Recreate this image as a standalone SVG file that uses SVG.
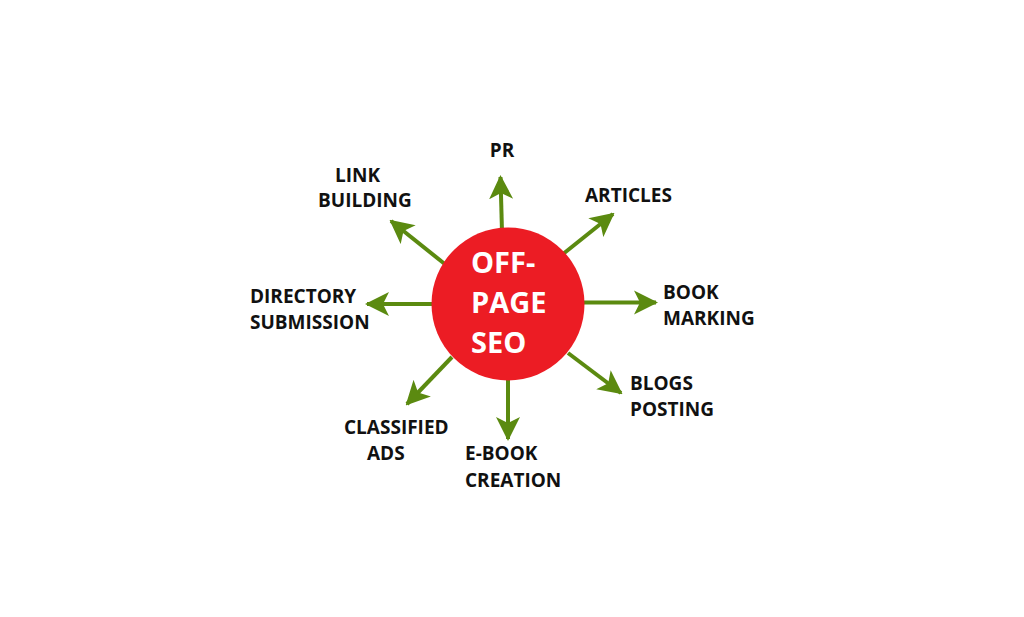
<svg xmlns="http://www.w3.org/2000/svg" width="1024" height="617" viewBox="0 0 1024 617">
<style>
.lbl{font-family:"Open Sans","Liberation Sans",sans-serif;font-weight:700;font-size:19px;fill:#111}
.ctr{font-family:"Open Sans","Liberation Sans",sans-serif;font-weight:700;font-size:29px;fill:#fff}
.arr{stroke:#5b8a10;stroke-width:4;fill:none;marker-end:url(#ah)}
</style>
<defs>
<marker id="ah" markerUnits="userSpaceOnUse" markerWidth="24" markerHeight="26" viewBox="0 0 24 26" refX="22" refY="13" orient="auto">
<path d="M0,1 L24,13 L0,25 L6,13 Z" fill="#5b8a10"/>
</marker>
</defs>
<rect width="1024" height="617" fill="#fff"/>
<g id="connectors">
<line class="arr" x1="502" y1="232" x2="500.5" y2="177"/>
<line class="arr" x1="563" y1="254" x2="613" y2="214"/>
<line class="arr" x1="584" y1="302.5" x2="656" y2="302.5"/>
<line class="arr" x1="568" y1="353" x2="621" y2="393"/>
<line class="arr" x1="508" y1="378" x2="508" y2="439"/>
<line class="arr" x1="452" y1="357" x2="407" y2="404"/>
<line class="arr" x1="433" y1="304" x2="367" y2="304"/>
<line class="arr" x1="446" y1="265" x2="391" y2="221"/>
</g>
<g id="center">
<circle cx="508" cy="304" r="76.5" fill="#ec1c24"/>
<text class="ctr" x="471" y="273">OFF-</text>
<text class="ctr" x="471" y="313">PAGE</text>
<text class="ctr" x="471" y="353">SEO</text>
</g>
<g id="pr"><text class="lbl" x="502" y="157" text-anchor="middle">PR</text></g>
<g id="articles"><text class="lbl" x="585" y="202">ARTICLES</text></g>
<g id="bookmarking"><text class="lbl" x="663" y="299">BOOK</text><text class="lbl" x="663" y="325">MARKING</text></g>
<g id="blogs"><text class="lbl" x="630" y="390">BLOGS</text><text class="lbl" x="630" y="416">POSTING</text></g>
<g id="ebook"><text class="lbl" x="465" y="460">E-BOOK</text><text class="lbl" x="465" y="487">CREATION</text></g>
<g id="classified"><text class="lbl" x="344" y="434">CLASSIFIED</text><text class="lbl" x="367" y="460">ADS</text></g>
<g id="directory"><text class="lbl" x="250" y="303">DIRECTORY</text><text class="lbl" x="250" y="329">SUBMISSION</text></g>
<g id="link"><text class="lbl" x="335" y="182">LINK</text><text class="lbl" x="318" y="207">BUILDING</text></g>
</svg>
